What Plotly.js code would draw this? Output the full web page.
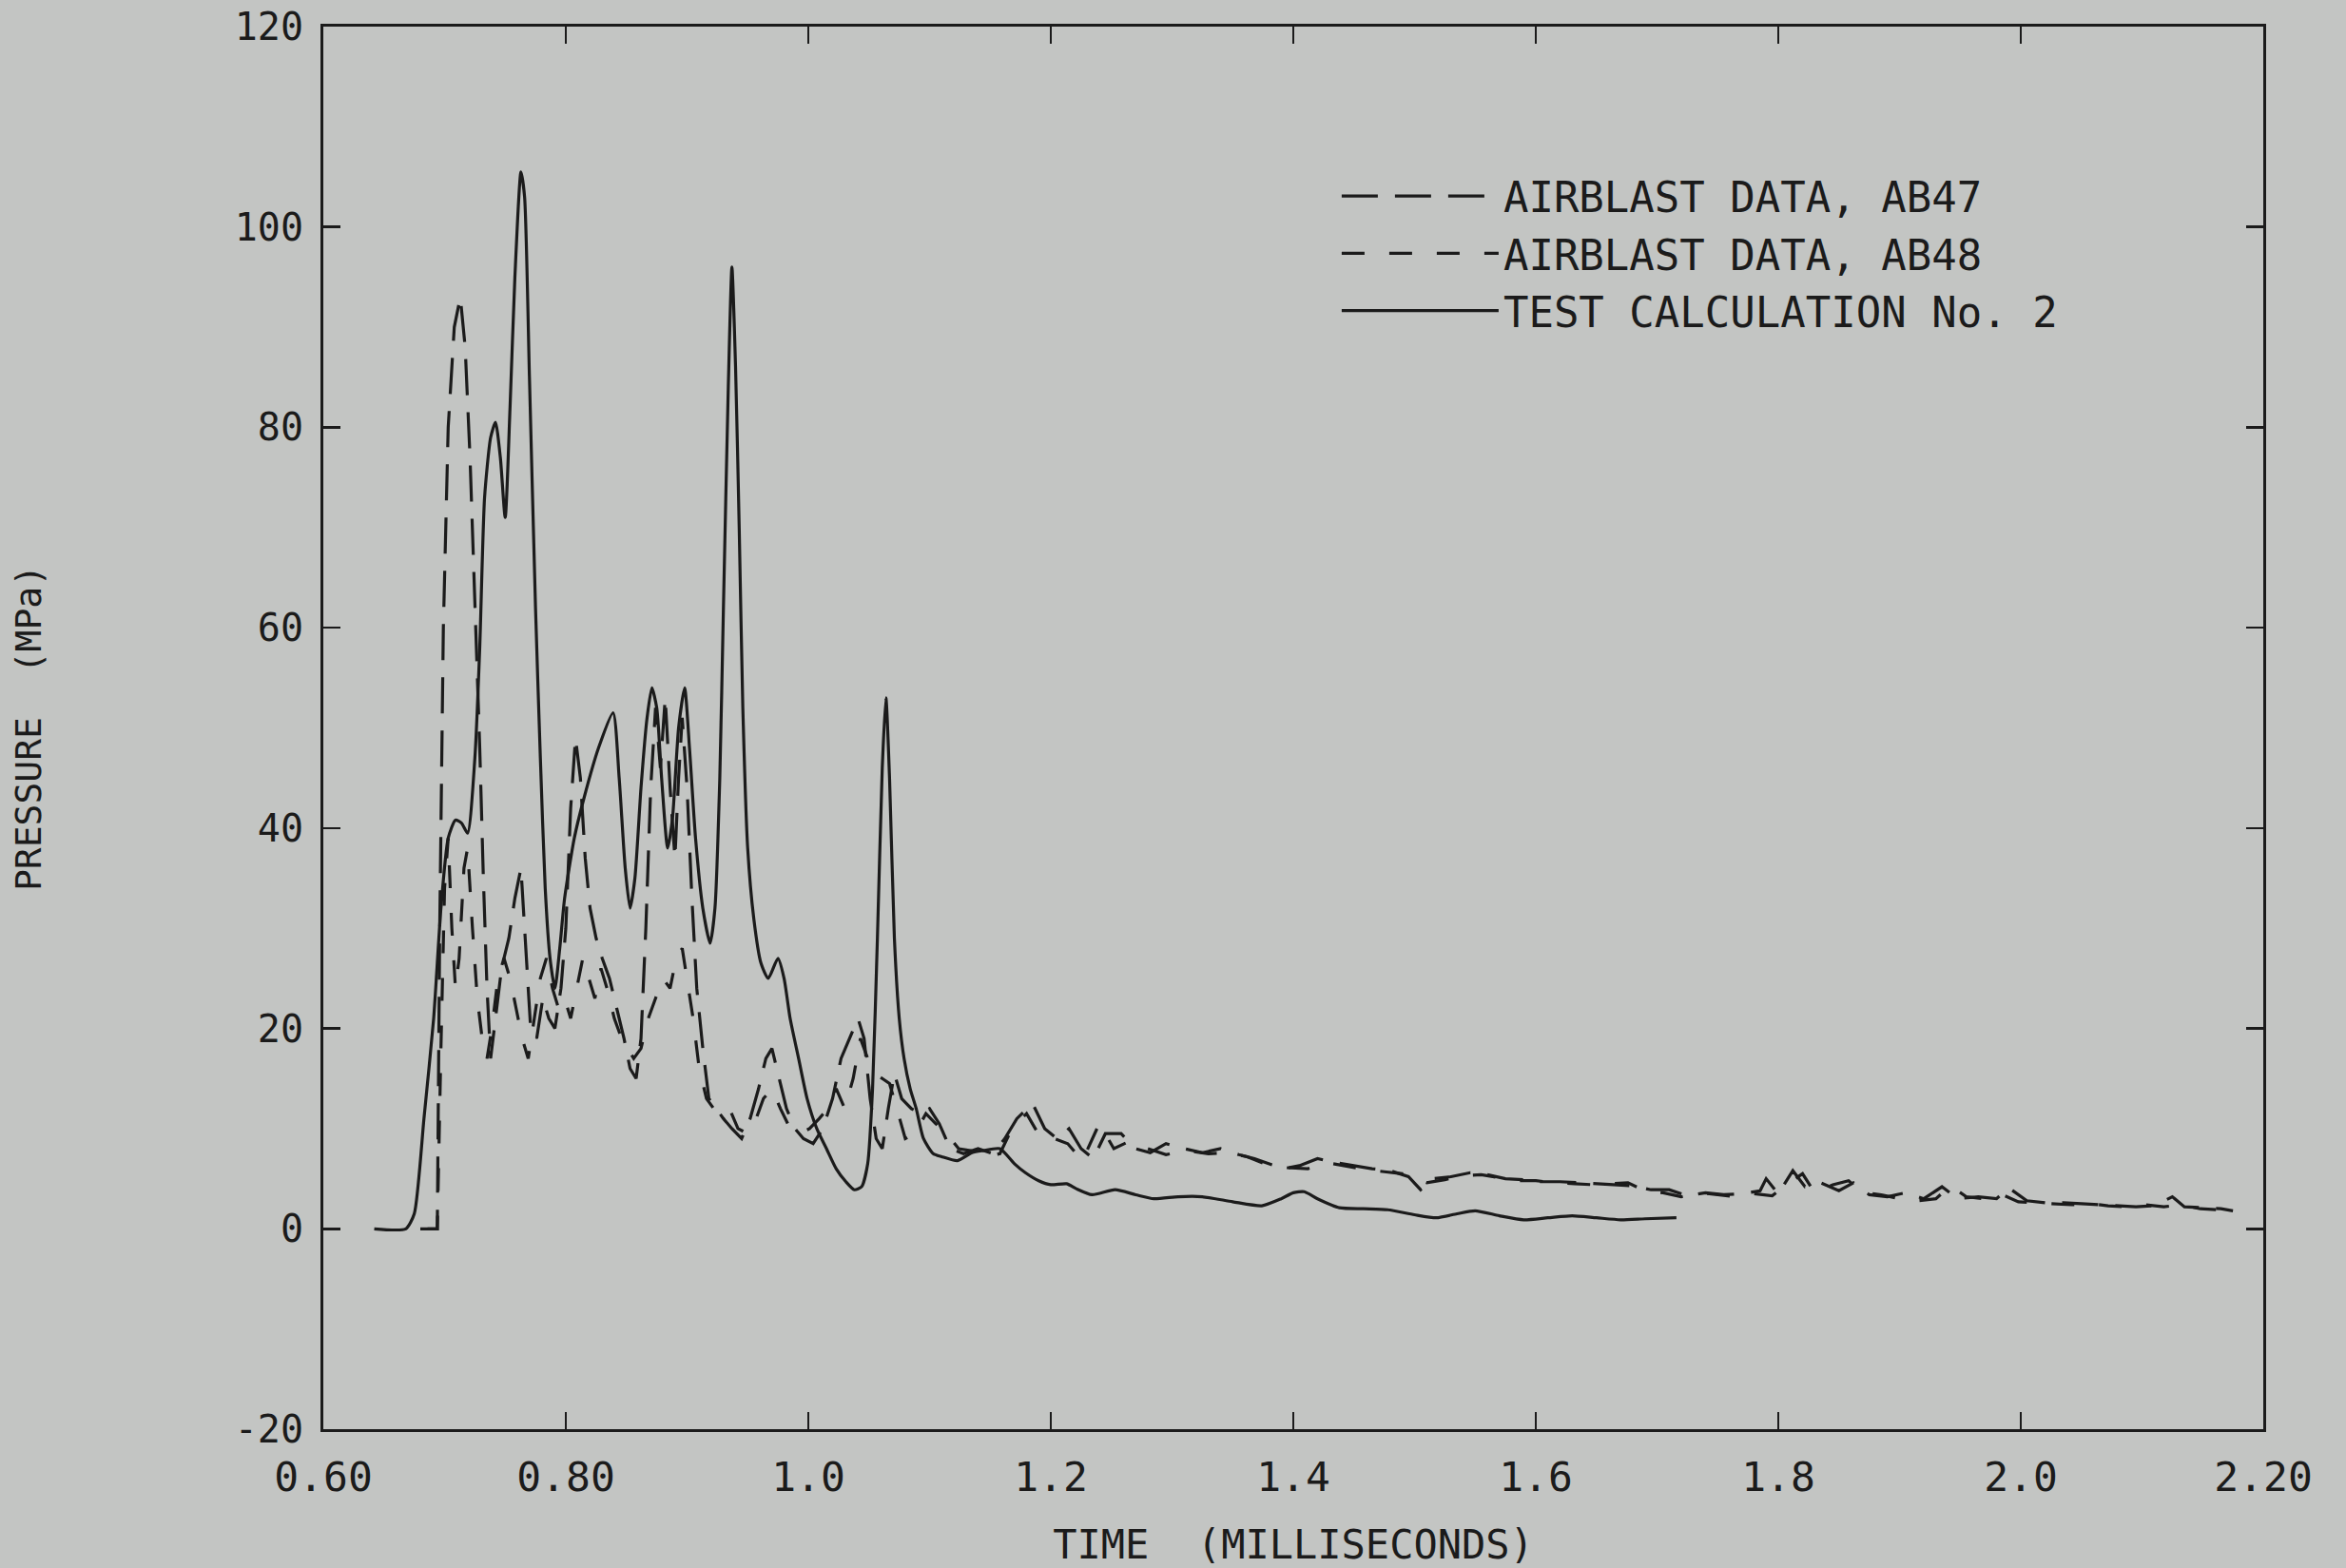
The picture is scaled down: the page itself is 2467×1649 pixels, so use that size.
<!DOCTYPE html>
<html>
<head>
<meta charset="utf-8">
<script src="https://cdn.plot.ly/plotly-3.0.1.min.js"></script>
<style>
  html, body { margin: 0; padding: 0; background: #c3c5c3; }
  #chart { width: 2467px; height: 1649px; }
</style>
</head>
<body>
<div id="chart"></div>
<script>
// ---- Data (time in ms, pressure in MPa) ----
const ab47Time = [0.680,0.694,0.696,0.699,0.703,0.708,0.713,0.717,0.721,0.725,0.729,0.732,0.735,0.738,0.742,0.747,0.753,0.758,0.763,0.767,0.771,0.776,0.781,0.786,0.791,0.796,0.800,0.804,0.808,0.812,0.816,0.820,0.825,0.830,0.836,0.842,0.848,0.853,0.858,0.862,0.866,0.870,0.874,0.878,0.882,0.886,0.890,0.893,0.896,0.900,0.904,0.908,0.913,0.918,0.924,0.930,0.937,0.945,0.952,0.959,0.965,0.970,0.976,0.982,0.989,0.996,1.004,1.012,1.020,1.027,1.034,1.041,1.046,1.051,1.056,1.061,1.066,1.071,1.077,1.085,1.093,1.100,1.108,1.117,1.128,1.140,1.152,1.162,1.172,1.185,1.195,1.205,1.215,1.225,1.235,1.245,1.258,1.270,1.282,1.295,1.310,1.325,1.340,1.355,1.368,1.380,1.392,1.405,1.420,1.435,1.450,1.465,1.480,1.495,1.505,1.515,1.530,1.546,1.560,1.575,1.590,1.605,1.620,1.635,1.650,1.665,1.680,1.695,1.710,1.725,1.740,1.755,1.770,1.785,1.790,1.800,1.812,1.822,1.835,1.850,1.862,1.875,1.890,1.905,1.920,1.935,1.948,1.965,1.980,1.990,2.005,2.020,2.035,2.050,2.065,2.080,2.095,2.110,2.125,2.135,2.150,2.165,2.175];
const ab47Pressure = [0,0,30,60,80,90,93,88,77,63,48,35,24,17,21,26,29,33,36,28,20,19,23,21,20,24,30,42,49,45,37,32,29,27,25,22,19,16,15,19,30,44,52,46,53,44,37,45,51,44,33,24,18,13,12,11,10,9,11,14,17,18,15,12,10,9,8.5,10,13,17,19,21,19,13,9,8,12,15.5,13,12,11.5,12,10.5,8,7.5,8,7.5,9,11,12.5,10,9,10,8,7,9.5,9.5,8,7.6,8.5,8,7.6,8,7.4,7.0,6.5,6.0,6.3,7.0,6.6,6.3,6.0,5.8,5.2,3.9,5.0,5.2,5.6,5.4,5.0,4.9,4.7,4.7,4.6,4.5,4.4,4.3,3.9,3.9,3.3,3.6,3.4,3.5,3.8,5.0,3.5,5.8,4.2,4.6,3.8,4.6,3.4,3.2,3.6,3.0,4.2,3.0,3.2,3.0,4.1,2.8,2.6,2.6,2.5,2.4,2.3,2.2,2.3,3.2,2.2,2.1,2.0,1.8];

const ab48Time = [0.686,0.694,0.697,0.700,0.703,0.706,0.709,0.712,0.716,0.719,0.723,0.727,0.731,0.735,0.739,0.744,0.749,0.754,0.759,0.764,0.769,0.774,0.779,0.784,0.789,0.794,0.799,0.804,0.809,0.814,0.819,0.824,0.829,0.834,0.840,0.846,0.851,0.856,0.862,0.868,0.874,0.880,0.886,0.891,0.896,0.900,0.905,0.910,0.916,0.922,0.928,0.935,0.942,0.950,0.957,0.963,0.970,0.977,0.985,0.993,1.001,1.009,1.016,1.023,1.030,1.037,1.043,1.049,1.055,1.061,1.067,1.073,1.080,1.088,1.097,1.105,1.114,1.124,1.134,1.146,1.158,1.168,1.180,1.192,1.203,1.214,1.226,1.240,1.252,1.266,1.280,1.295,1.312,1.330,1.345,1.362,1.378,1.395,1.412,1.428,1.445,1.460,1.475,1.490,1.510,1.525,1.540,1.555,1.570,1.585,1.600,1.615,1.632,1.648,1.662,1.676,1.690,1.705,1.720,1.735,1.750,1.765,1.780,1.795,1.808,1.820,1.830,1.845,1.858,1.870,1.885,1.900,1.915,1.930,1.942,1.955,1.970,1.985,1.998,2.012,2.028,2.042,2.058,2.072,2.088,2.102,2.118,2.132,2.148,2.162,2.172];
const ab48Pressure = [0,0,18,34,39,30,24,27,36,38,30,23,19,17,20,25,27,25,22,19,17,21,25,27,24,22,23,21,24,27,25,23,26,24,21,19,18,17,18,21,23,25,24,27,28,25,21,16,13,12,11.5,12,10,9.5,11,13,14,12,10,9.5,10,11,12,14,12,15,19,17,15.5,15,14.5,12,9,9.5,11.5,10.5,9.5,8,7.8,7.2,7.5,10,11.5,9,9,8.5,6.8,10.5,8,8.8,8,7.4,7.8,7.5,7.6,7.2,6.4,6.1,6.0,6.6,6.2,5.9,5.7,5.5,4.6,4.9,5.3,5.4,5.1,4.8,4.8,4.6,4.5,4.4,4.5,4.6,3.8,3.6,3.2,3.6,3.4,3.2,3.5,3.3,4.5,5.5,3.6,4.4,4.8,3.6,3.4,3.0,2.8,3.0,4.3,3.2,3.0,3.4,2.7,2.6,2.5,2.4,2.5,2.3,2.2,2.4,2.2,2.4,2.0,1.9,1.7];

const calcTime = [0.642,0.668,0.675,0.683,0.691,0.697,0.703,0.709,0.714,0.719,0.725,0.729,0.733,0.738,0.742,0.746,0.750,0.754,0.758,0.763,0.766,0.770,0.775,0.779,0.783,0.787,0.791,0.795,0.799,0.807,0.815,0.827,0.839,0.844,0.849,0.853,0.857,0.862,0.867,0.871,0.875,0.879,0.884,0.888,0.893,0.898,0.902,0.907,0.913,0.919,0.923,0.927,0.930,0.934,0.937,0.940,0.943,0.946,0.950,0.955,0.961,0.967,0.975,0.980,0.985,0.992,0.999,1.007,1.015,1.023,1.031,1.038,1.044,1.049,1.053,1.057,1.061,1.064,1.067,1.071,1.075,1.079,1.084,1.089,1.095,1.103,1.110,1.123,1.135,1.144,1.158,1.170,1.179,1.190,1.200,1.213,1.221,1.234,1.253,1.270,1.285,1.305,1.325,1.350,1.374,1.390,1.400,1.409,1.420,1.438,1.458,1.478,1.500,1.518,1.535,1.550,1.570,1.590,1.610,1.630,1.650,1.670,1.690,1.716];
const calcPressure = [0,0,1.5,11,21,32,39,40.8,40.5,39.5,47,58,73,79,80.5,77,71,82,95,105.5,103,85,62,47,34,27,24,28,33,39,43,48,51.5,45,36,32,35,44,51,54,52,45,38,41,50,54,48,39,32,28.5,32,45,62,84,96,86,70,52,38,31,26.5,25,27,25,21,17,13,10,8,6,4.7,3.9,4.2,6.5,14,29,46,53,45,29,21,17,14,12,9,7.5,7.2,6.8,7.6,7.8,8,6.5,5.6,4.8,4.4,4.5,4,3.4,3.9,3.4,3.0,3.2,3.2,2.7,2.3,3.0,3.6,3.7,3.0,2.1,2.0,1.9,1.4,1.1,1.5,1.8,1.3,0.9,1.1,1.3,1.1,0.9,1.0,1.1];

const seriesNames = ['AIRBLAST DATA, AB47', 'AIRBLAST DATA, AB48', 'TEST CALCULATION No. 2'];
const xTickVals = [0.6, 0.8, 1.0, 1.2, 1.4, 1.6, 1.8, 2.0, 2.2];
const xTickText = ['0.60', '0.80', '1.0', '1.2', '1.4', '1.6', '1.8', '2.0', '2.20'];
const yTickVals = [-20, 0, 20, 40, 60, 80, 100, 120];
const yTickText = ['-20', '0', '20', '40', '60', '80', '100', '120'];

// ---- Styling ----
const INK = '#1b1b1b';
const BG = '#c3c5c3';
const FONT = 'DejaVu Sans Mono, monospace';

const traces = [
  { x: ab47Time, y: ab47Pressure, name: seriesNames[0], mode: 'lines',
    line: { color: INK, width: 3.2, dash: '38px,18px' } },
  { x: ab48Time, y: ab48Pressure, name: seriesNames[1], mode: 'lines',
    line: { color: INK, width: 3.2, dash: '24px,26px' } },
  { x: calcTime, y: calcPressure, name: seriesNames[2], mode: 'lines',
    line: { color: INK, width: 3.2, shape: 'spline', smoothing: 0.6 } }
];

const axisCommon = {
  showline: true, linecolor: INK, linewidth: 3, mirror: 'ticks',
  ticks: 'inside', ticklen: 18, tickwidth: 2.5, tickcolor: INK,
  showgrid: false, zeroline: false
};

const layout = {
  width: 2467, height: 1649,
  paper_bgcolor: BG, plot_bgcolor: BG,
  margin: { l: 340, r: 87, t: 28, b: 146 },
  font: { family: FONT, color: INK, size: 40 },
  showlegend: true,
  legend: {
    x: 0.5225, y: 0.903, xanchor: 'left', yanchor: 'top',
    bgcolor: 'rgba(0,0,0,0)', borderwidth: 0,
    font: { family: FONT, size: 44, color: INK },
    itemwidth: 165, tracegroupgap: 0
  },
  xaxis: Object.assign({}, axisCommon, {
    range: [0.6, 2.2], tickmode: 'array', tickvals: xTickVals, ticktext: xTickText,
    ticklabelstandoff: 10,
    tickfont: { family: FONT, size: 43, color: INK },
    title: { text: 'TIME  (MILLISECONDS)', font: { family: FONT, size: 42, color: INK }, standoff: 36 }
  }),
  yaxis: Object.assign({}, axisCommon, {
    range: [-20, 120], tickmode: 'array', tickvals: yTickVals, ticktext: yTickText,
    ticklabelstandoff: 10,
    tickfont: { family: FONT, size: 40, color: INK },
    title: { text: 'PRESSURE  (MPa)', font: { family: FONT, size: 38, color: INK }, standoff: 192 }
  })
};

Plotly.newPlot('chart', traces, layout, { displayModeBar: false, staticPlot: true });
</script>
</body>
</html>
